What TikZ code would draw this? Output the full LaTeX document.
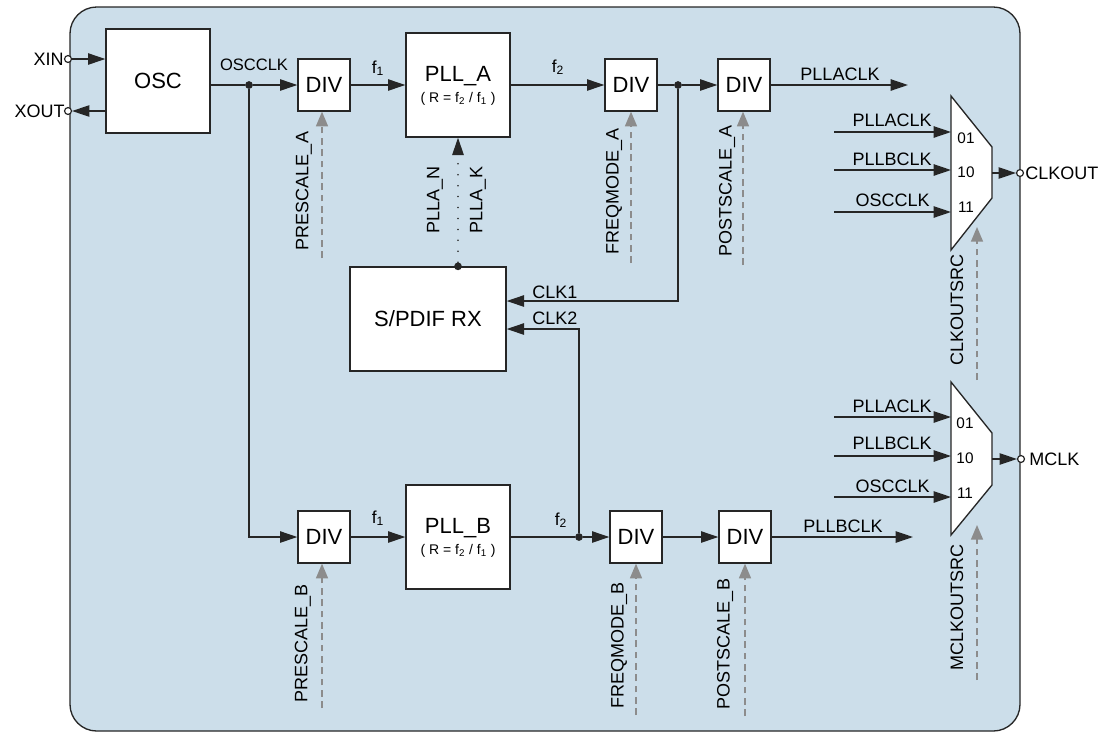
\documentclass[tikz,border=0pt]{standalone}
\usepackage{fontspec}
\setmainfont{Liberation Sans}
\usetikzlibrary{arrows.meta,calc}
\definecolor{bgc}{RGB}{204,222,234}
\definecolor{linec}{RGB}{38,38,38}
\definecolor{ctlc}{RGB}{140,140,140}
\newcommand\fbig{\fontsize{16.5}{19}\selectfont}
\newcommand\flbl{\fontsize{13.5}{16}\selectfont}
\newcommand\fmid{\fontsize{12.4}{15}\selectfont}
\newcommand\fsubt{\fontsize{10.5}{12}\selectfont}
\newcommand\fnum{\fontsize{11.5}{13}\selectfont}
\newcommand\ffreq{\fontsize{13}{15}\selectfont}
\tikzset{
  box/.style={draw=linec, fill=white, line width=1pt, inner sep=0pt, font=\fbig, align=center},
  ln/.style={draw=linec, line width=1.1pt},
  arr/.style={draw=linec, line width=1.1pt, -{Triangle[length=13pt,width=8.5pt]}},
  ctl/.style={draw=ctlc, line width=1.1pt, dash pattern=on 5pt off 3.5pt, -{Triangle[length=11pt,width=9pt]}},
  dotline/.style={draw=linec, line width=1.3pt, line cap=round, dash pattern=on 0pt off 8.2pt, -{Triangle[length=13pt,width=8.5pt]}},
  jdot/.style={circle, fill=linec, inner sep=0pt, minimum size=5.8pt},
  port/.style={circle, draw=linec, fill=white, inner sep=0pt, minimum size=5.2pt, line width=0.9pt},
  lbl/.style={font=\flbl, inner sep=0pt},
  vlbl/.style={font=\flbl, inner sep=0pt, rotate=90},
  muxs/.style={draw=linec, fill=white, line width=1pt, line join=miter},
}
\begin{document}
\begin{tikzpicture}[x=0.75pt,y=-0.75pt]
\useasboundingbox (0,0) rectangle (1117,733);
% outer frame
\draw[draw=linec, fill=bgc, line width=1pt, rounded corners=20pt] (70,7) rectangle (1020,731);

% blocks
\node[box, minimum width=78pt, minimum height=78pt] (osc) at (158,81) {OSC};
\node[box, minimum width=39pt, minimum height=39pt] (divA1) at (324,85) {DIV};
\node[box, minimum width=78pt, minimum height=78pt] (pllA) at (458,85) {};
\node[font=\fbig, inner sep=0pt] (pllAt) at (458,76) {PLL\_A};
\node[font=\fsubt, inner sep=0pt] (pllAs) at (458,99) {( R = f\textsubscript{2} / f\textsubscript{1} )};
\node[box, minimum width=39pt, minimum height=39pt] (divA2) at (631,85) {DIV};
\node[box, minimum width=39pt, minimum height=39pt] (divA3) at (744,85) {DIV};

\node[box, minimum width=117pt, minimum height=78pt] (spdif) at (428,319) {S/PDIF RX};

\node[box, minimum width=39pt, minimum height=39pt] (divB1) at (324,537) {DIV};
\node[box, minimum width=78pt, minimum height=78pt] (pllB) at (458,537) {};
\node[font=\fbig, inner sep=0pt] (pllBt) at (458,528) {PLL\_B};
\node[font=\fsubt, inner sep=0pt] (pllBs) at (458,551) {( R = f\textsubscript{2} / f\textsubscript{1} )};
\node[box, minimum width=39pt, minimum height=39pt] (divB2) at (636,537) {DIV};
\node[box, minimum width=39pt, minimum height=39pt] (divB3) at (745,537) {DIV};

% XIN / XOUT
\node[port] (xin) at (68,59) {};
\node[lbl, anchor=east] (xinl) at (64,59) {XIN};
\node[port] (xout) at (68,111) {};
\node[lbl, anchor=east] (xoutl) at (65,111) {XOUT};
\draw[arr] (xin) -- (xin -| osc.west);
\draw[arr] (xout -| osc.west) -- (xout);

% OSCCLK
\node[jdot] (dA) at (249,85) {};
\draw[ln] (osc.east |- dA) -- (dA);
\draw[arr] (dA) -- (divA1.west);
\draw[arr] (dA) |- (divB1.west);
\node[font=\fmid, inner sep=0pt, anchor=base] (oscl) at (254,70) {OSCCLK};

% row A
\draw[arr] (divA1.east) -- (pllA.west);
\node[font=\ffreq, inner sep=0pt, anchor=base] (fa1) at (378,73) {f\textsubscript{1}};
\draw[arr] (pllA.east) -- (divA2.west);
\node[font=\ffreq, inner sep=0pt, anchor=base] (fa2) at (558,72) {f\textsubscript{2}};
\node[jdot] (dA2) at (678,85) {};
\draw[ln] (divA2.east) -- (dA2);
\draw[arr] (dA2) -- (divA3.west);
\coordinate (plla_out) at (908,85);
\draw[arr] (divA3.east) -- (plla_out);
\node[lbl, anchor=base] (pllaclkl) at (840,80) {PLLACLK};

% CLK1 / CLK2
\coordinate (c1) at (spdif.east |- 0,301);
\coordinate (c2) at (spdif.east |- 0,329);
\draw[arr] (dA2) |- (c1);
\node[lbl, anchor=base west] (clk1l) at (532,298) {CLK1};
\node[jdot] (dB) at (579,537) {};
\draw[arr] (dB) |- (c2);
\node[lbl, anchor=base west] (clk2l) at (532,324) {CLK2};

% PLLA_N / PLLA_K
\node[jdot] (dS) at (pllA.south |- spdif.north) {};
\draw[dotline] (dS) -- (pllA.south);
\node[vlbl] (plln) at (435,200) {PLLA\_N};
\node[vlbl] (pllk) at (478,200) {PLLA\_K};

% row B
\draw[arr] (divB1.east) -- (pllB.west);
\node[font=\ffreq, inner sep=0pt, anchor=base] (fb1) at (378,523) {f\textsubscript{1}};
\draw[ln] (pllB.east) -- (dB);
\draw[arr] (dB) -- (divB2.west);
\node[font=\ffreq, inner sep=0pt, anchor=base] (fb2) at (561,525) {f\textsubscript{2}};
\draw[arr] (divB2.east) -- (divB3.west);
\coordinate (pllb_out) at (913,537);
\draw[arr] (divB3.east) -- (pllb_out);
\node[lbl, anchor=base] (pllbclkl) at (843,532) {PLLBCLK};

% control arrows
\coordinate (kA1) at (322,258);
\draw[ctl] (kA1) -- (kA1 |- divA1.south);
\node[vlbl] (prea) at (304,191) {PRESCALE\_A};
\coordinate (kA2) at (631,263);
\draw[ctl] (kA2) -- (kA2 |- divA2.south);
\node[vlbl] (freqa) at (614,191) {FREQMODE\_A};
\coordinate (kA3) at (743,265);
\draw[ctl] (kA3) -- (kA3 |- divA3.south);
\node[vlbl] (posta) at (727,191) {POSTSCALE\_A};

\coordinate (kB1) at (322,708);
\draw[ctl] (kB1) -- (kB1 |- divB1.south);
\node[vlbl] (preb) at (303,643) {PRESCALE\_B};
\coordinate (kB2) at (636,715);
\draw[ctl] (kB2) -- (kB2 |- divB2.south);
\node[vlbl] (freqb) at (619,645) {FREQMODE\_B};
\coordinate (kB3) at (745,716);
\draw[ctl] (kB3) -- (kB3 |- divB3.south);
\node[vlbl] (postb) at (725,644) {POSTSCALE\_B};

% mux CLKOUT
\coordinate (mA1) at (951,96);
\coordinate (mA2) at (992,147);
\coordinate (mA3) at (992,198);
\coordinate (mA4) at (951,250);
\draw[muxs] (mA1) -- (mA2) -- (mA3) -- (mA4) -- cycle;
\coordinate (iA1) at (834,132); \coordinate (eA1) at (951,132);
\coordinate (iA2) at (834,170); \coordinate (eA2) at (951,170);
\coordinate (iA3) at (834,212); \coordinate (eA3) at (951,212);
\draw[arr] (iA1) -- (eA1);
\draw[arr] (iA2) -- (eA2);
\draw[arr] (iA3) -- (eA3);
\node[lbl, anchor=base east] (ma1l) at (932,126) {PLLACLK};
\node[lbl, anchor=base east] (ma2l) at (932,165) {PLLBCLK};
\node[lbl, anchor=base east] (ma3l) at (930,206) {OSCCLK};
\node[font=\fnum, inner sep=0pt] (na1) at (966,138) {01};
\node[font=\fnum, inner sep=0pt] (na2) at (966,172) {10};
\node[font=\fnum, inner sep=0pt] (na3) at (966,207) {11};
\node[port] (clkout) at (1020,173) {};
\coordinate (oA) at (992,173);
\draw[arr] (oA) -- (clkout);
\node[lbl, anchor=west] (clkoutl) at (1025,173) {CLKOUT};
\coordinate (kC1) at (977,380); \coordinate (kC1t) at (977,227);
\draw[ctl] (kC1) -- (kC1t);
\node[vlbl] (clksrc) at (957,310) {CLKOUTSRC};

% mux MCLK
\coordinate (mB1) at (951,382);
\coordinate (mB2) at (992,433);
\coordinate (mB3) at (992,485);
\coordinate (mB4) at (951,535);
\draw[muxs] (mB1) -- (mB2) -- (mB3) -- (mB4) -- cycle;
\coordinate (iB1) at (834,417); \coordinate (eB1) at (951,417);
\coordinate (iB2) at (834,456); \coordinate (eB2) at (951,456);
\coordinate (iB3) at (834,497); \coordinate (eB3) at (951,497);
\draw[arr] (iB1) -- (eB1);
\draw[arr] (iB2) -- (eB2);
\draw[arr] (iB3) -- (eB3);
\node[lbl, anchor=base east] (mb1l) at (932,412) {PLLACLK};
\node[lbl, anchor=base east] (mb2l) at (932,449) {PLLBCLK};
\node[lbl, anchor=base east] (mb3l) at (930,492) {OSCCLK};
\node[font=\fnum, inner sep=0pt] (nb1) at (965,423) {01};
\node[font=\fnum, inner sep=0pt] (nb2) at (965,458) {10};
\node[font=\fnum, inner sep=0pt] (nb3) at (965,493) {11};
\node[port] (mclk) at (1021,459) {};
\coordinate (oB) at (992,459);
\draw[arr] (oB) -- (mclk);
\node[lbl, anchor=west] (mclkl) at (1029,459) {MCLK};
\coordinate (kC2) at (977,680); \coordinate (kC2t) at (977,525);
\draw[ctl] (kC2) -- (kC2t);
\node[vlbl] (mclksrc) at (957,607) {MCLKOUTSRC};
\end{tikzpicture}
\end{document}
